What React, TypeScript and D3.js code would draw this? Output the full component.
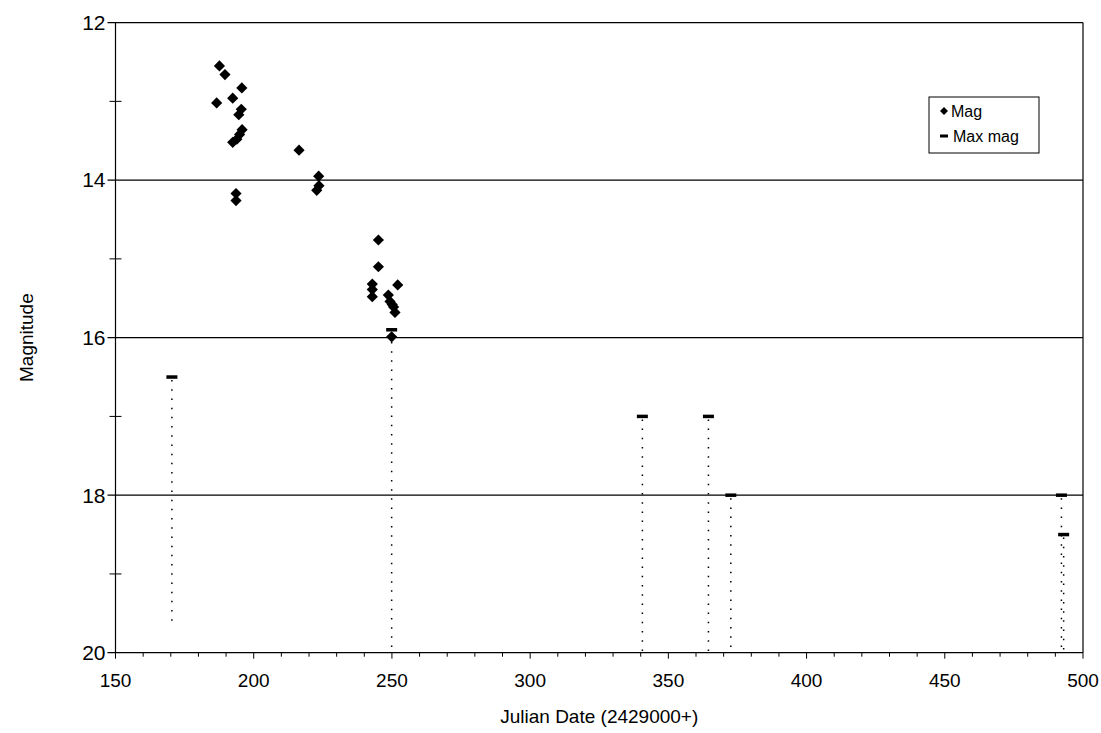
import React from "react";
import * as d3 from "d3";

const magJD = [186.6, 187.6, 189.6, 192.4, 195.7, 195.5, 194.6, 195.8, 194.9, 193.9, 192.4, 193.6, 193.6, 216.4, 223.5, 222.8, 223.6, 245.1, 245.1, 242.9, 242.9, 242.9, 252.1, 248.7, 249.3, 250.1, 250.6, 251.1, 249.9];
const magVal = [13.02, 12.55, 12.66, 12.96, 12.83, 13.10, 13.17, 13.36, 13.42, 13.48, 13.52, 14.17, 14.26, 13.62, 13.95, 14.13, 14.07, 14.76, 15.10, 15.32, 15.39, 15.48, 15.33, 15.46, 15.54, 15.58, 15.61, 15.68, 15.99];

const limJD = [170.4, 249.9, 340.6, 364.5, 372.6, 492.2, 493.0];
const limMag = [16.5, 15.9, 17.0, 17.0, 18.0, 18.0, 18.5];
const limBottom = [19.6, 20, 20, 20, 20, 20, 20];

const xMajor = [150, 200, 250, 300, 350, 400, 450, 500];
const yMajor = [12, 14, 16, 18, 20];
const yMinor = [13, 15, 17, 19];
const xMinor = d3.range(150, 501, 10);

const W = 1101, H = 733;
const L = 115.5, R = 1083, T = 22.6, B = 652.7;
const FONT = "'Liberation Sans', Arial, Helvetica, sans-serif";

export default function App() {
  const x = d3.scaleLinear().domain([150, 500]).range([L, R]);
  const y = d3.scaleLinear().domain([12, 20]).range([T, B]);
  const diamond = (cx: number, cy: number, r = 5.6) => `M${cx},${cy - r}L${cx + r},${cy}L${cx},${cy + r}L${cx - r},${cy}Z`;

  return (
    <svg width={W} height={H} style={{ position: "absolute", left: 0, top: 0, background: "#fff" }} fontFamily={FONT}>
      <rect x={0} y={0} width={W} height={H} fill="#fff" />
      {yMajor.map((v) => (
        <line key={"g" + v} x1={L - 8} x2={R} y1={y(v)} y2={y(v)} stroke="#000" strokeWidth={1.2} />
      ))}
      {yMinor.map((v) => (
        <line key={"m" + v} x1={L - 6} x2={L + 6} y1={y(v)} y2={y(v)} stroke="#000" strokeWidth={1} />
      ))}
      <line x1={L} x2={L} y1={T} y2={B} stroke="#000" strokeWidth={1.2} />
      <line x1={R} x2={R} y1={T} y2={B} stroke="#000" strokeWidth={1.2} />
      {xMinor.map((v) => (
        <line key={"xt" + v} x1={x(v)} x2={x(v)} y1={B} y2={B + (v % 50 === 0 ? 6 : 4)} stroke="#000" strokeWidth={1} />
      ))}
      {yMajor.map((v) => (
        <text key={"yl" + v} x={L - 10} y={y(v)} dy="0.35em" textAnchor="end" fontSize={21}>{v}</text>
      ))}
      {xMajor.map((v) => (
        <text key={"xl" + v} x={x(v)} y={B + 34} textAnchor="middle" fontSize={19}>{v}</text>
      ))}
      <text x={(L + R) / 2} y={723} textAnchor="middle" fontSize={19}>Julian Date (2429000+)</text>
      <text transform={`translate(33,${(T + B) / 2}) rotate(-90)`} textAnchor="middle" fontSize={19}>Magnitude</text>
      {limJD.map((d, i) => (
        <line key={"dl" + i} x1={x(d)} x2={x(d)} y1={y(limMag[i]) + 3} y2={y(limBottom[i])} stroke="#000" strokeWidth={1.5} strokeDasharray="1.5,7.7" />
      ))}
      {limJD.map((d, i) => (
        <rect key={"lb" + i} x={x(d) - 5.5} y={y(limMag[i]) - 1.75} width={11} height={3.5} fill="#000" />
      ))}
      {magJD.map((d, i) => (
        <path key={"p" + i} d={diamond(x(d), y(magVal[i]))} fill="#000" />
      ))}
      <rect x={929} y={97} width={110} height={56} fill="#fff" stroke="#000" strokeWidth={1} />
      <path d={diamond(944, 111, 4)} fill="#000" />
      <text x={951} y={111} dy="0.35em" fontSize={16}>Mag</text>
      <rect x={940} y={134.5} width={8} height={3} fill="#000" />
      <text x={953} y={136} dy="0.35em" fontSize={16}>Max mag</text>
    </svg>
  );
}
